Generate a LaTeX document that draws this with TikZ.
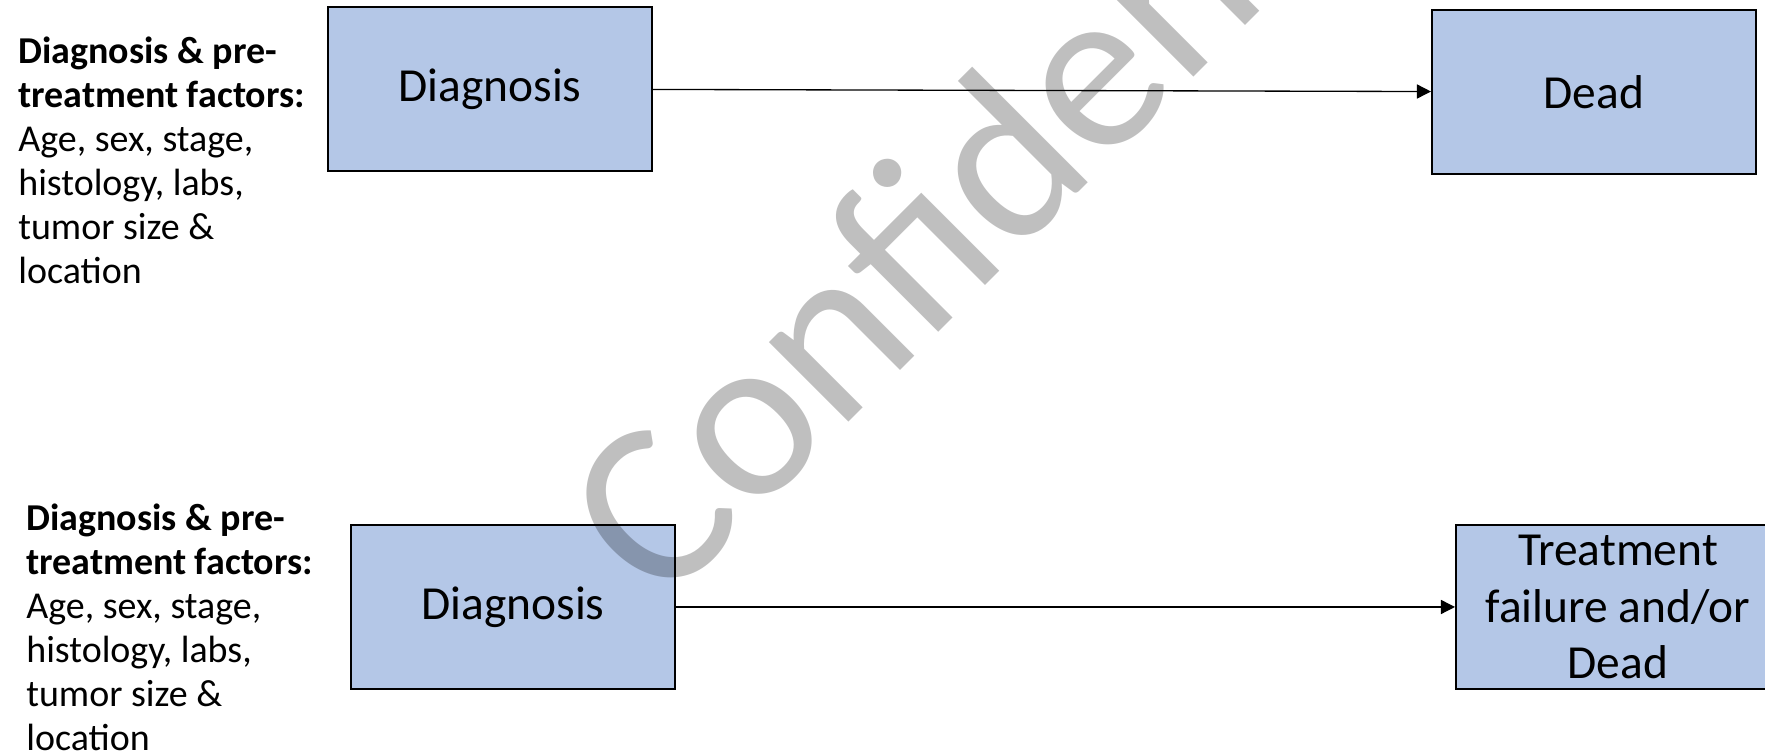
\documentclass[tikz,border=0pt]{standalone}
\usepackage{fontspec}
\setmainfont{Carlito}
\usepackage{xcolor}
\usetikzlibrary{arrows.meta}
\definecolor{stageBlue}{RGB}{180, 199, 231}

\begin{document}
\begin{tikzpicture}[
    stage/.style={draw=black, fill=stageBlue, line width=1.15pt, minimum width=6.48cm, minimum height=3.28cm, align=center, inner sep=1pt, font=\fontsize{27}{32}\selectfont},
    factors/.style={anchor=north west, align=left, inner sep=0pt, font=\fontsize{21.6}{25}\selectfont},
    link/.style={-{Triangle[length=8pt, width=8pt]}, line width=0.75pt}
]
    \useasboundingbox (0, 0) rectangle (35.3, 15.08);
    \clip (0, 0) rectangle (35.3, 15.08);

    % Upper row: diagnosis to death
    \node[factors] (fact1) at (0.36, 14.34) {\textbf{Diagnosis \& pre-}\\\textbf{treatment factors:}\\Age, sex, stage,\\histology, labs,\\tumor size \&\\location};
    \node[stage] (diag1) at (9.80, 13.30) {Diagnosis};
    \node[stage] (dead1) at (31.88, 13.24) {Dead};

    % Lower row: diagnosis to failure or death
    \node[factors] (fact2) at (0.52, 5.00) {\textbf{Diagnosis \& pre-}\\\textbf{treatment factors:}\\Age, sex, stage,\\histology, labs,\\tumor size \&\\location};
    \node[stage] (diag2) at (10.26, 2.94) {Diagnosis};
    \node[stage] (fail2) at (32.36, 2.94) {Treatment\\failure and/or\\Dead};

    % Arrows
    \draw[link] (diag1) -- (dead1);
    \draw[link] (diag2) -- (fail2);

    % Watermark
    \node[rotate=45, anchor=base west, inner sep=0pt, text=black, opacity=0.25, font=\fontsize{134}{156}\selectfont] (stamp) at (13.22, 2.88) {Confidential};
\end{tikzpicture}
\end{document}
